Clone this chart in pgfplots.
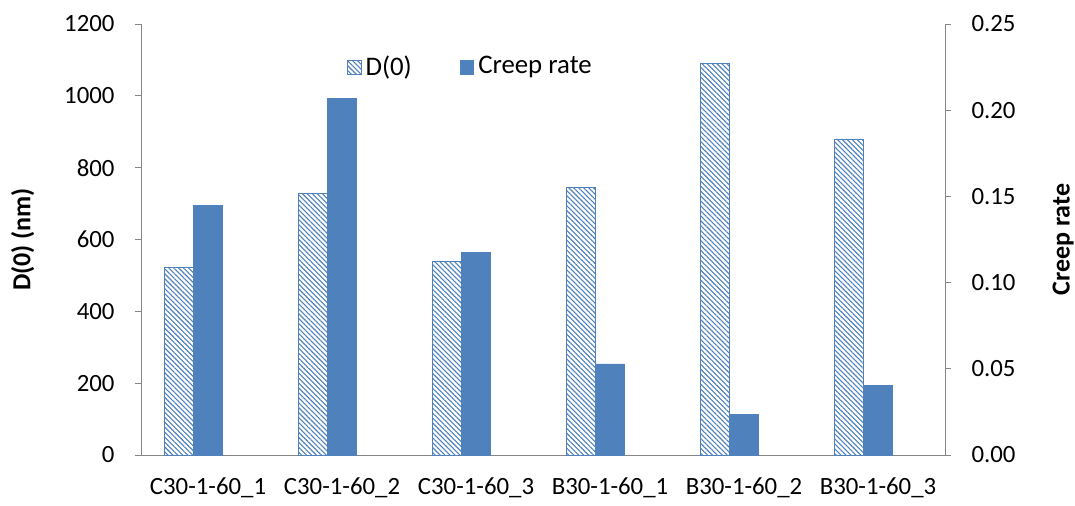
\documentclass[border=0pt]{standalone}
\usepackage{fontspec}
\setmainfont{Carlito}
\usepackage{pgfplots}
\pgfplotsset{compat=1.18}
\usetikzlibrary{patterns.meta}
\definecolor{xlblue}{HTML}{4F81BD}
\definecolor{axgray}{HTML}{868686}

\begin{document}
\fontsize{12.2}{14}\selectfont
\begin{tikzpicture}
\path[use as bounding box] (-70.5pt,-25pt) rectangle (467pt,227.5pt);
\pgfplotsset{
  common/.style={
    at={(0,0)}, anchor=south west,
    scale only axis, width=402pt, height=215.5pt,
    xmin=-0.5, xmax=5.5, enlarge x limits=false,
    ymin=0,
    ybar, bar width=0.216,
    tick align=outside, major tick length=3pt,
    tick style={axgray, thin},
    axis line style={axgray, thin, -},
    /pgf/number format/assume math mode=true,
    /pgf/number format/1000 sep={},
    ticklabel style={font=\fontsize{12.4}{14}\selectfont},
    label style={font=\fontsize{13}{15}\selectfont\bfseries},
  },
  hatch/.style={draw=xlblue, fill=white,
    postaction={pattern={Lines[angle=-45, distance=1.75pt, line width=0.55pt]}, pattern color=xlblue}},
  sqlegend/.style={legend image code/.code={
    \draw[##1, bar shift=0pt] (0pt,-3.4pt) rectangle (6.8pt,3.4pt);}},
}
% left axis: D(0)
\begin{axis}[common,
  axis y line*=left, axis x line*=bottom,
  ymax=1200, ytick={0,200,...,1200},
  yticklabel style={xshift=-6pt},
  xtick={0,...,5},
  xticklabels={C30-1-60\_1, C30-1-60\_2, C30-1-60\_3, B30-1-60\_1, B30-1-60\_2, B30-1-60\_3},
  x tick style={draw=none},
  minor xtick={-0.5,0.5,...,5.5},
  minor tick length=3pt,
  xticklabel style={yshift=-4pt},
  ylabel={D(0) (nm)},
  ylabel style={at={(axis description cs:-0.147,0.5)}, anchor=center},
]
\addplot[hatch, bar shift=-0.216]
  coordinates {(0,521) (1,729) (2,540) (3,746) (4,1089) (5,880)};
\end{axis}
% right axis: creep rate
\begin{axis}[common,
  axis y line*=right, axis x line=none,
  ymax=0.25, ytick={0,0.05,...,0.25},
  yticklabel style={xshift=6pt, /pgf/number format/.cd, fixed, fixed zerofill, precision=2},
  ylabel={Creep rate},
  ylabel style={at={(axis description cs:1.147,0.5)}, anchor=center},
  legend style={draw=none, fill=none, at={(0.411,0.9)}, anchor=center,
    legend columns=2, /tikz/every even column/.append style={column sep=22pt},
    font=\fontsize{13.4}{15}\selectfont},
  sqlegend,
]
\addlegendimage{hatch}
\addplot[draw=xlblue, fill=xlblue, bar shift=0]
  coordinates {(0,0.145) (1,0.207) (2,0.1176) (3,0.0528) (4,0.0236) (5,0.0402)};
\legend{D(0), Creep rate}
\end{axis}
\end{tikzpicture}
\end{document}
